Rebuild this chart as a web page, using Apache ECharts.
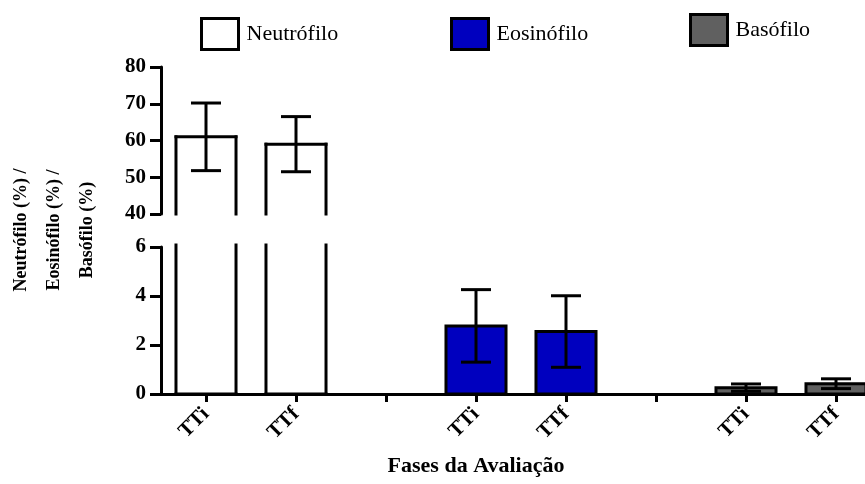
<!DOCTYPE html>
<html>
<head>
<meta charset="utf-8">
<script src="https://cdn.jsdelivr.net/npm/echarts@6/dist/echarts.min.js"></script>
<style>html,body{margin:0;padding:0;background:#fff}#c{width:865px;height:484px}</style>
</head>
<body>
<div id="c"></div>
<script>
const categories = ['TTi', 'TTf', '', 'TTi', 'TTf', '', 'TTi', 'TTf'];
const seriesNames = ['Neutrófilo', 'Eosinófilo', 'Basófilo'];
const neutrofiloMean = [61.0, 59.0, null, null, null, null, null, null];
const neutrofiloSD   = [9.2, 7.5, null, null, null, null, null, null];
const eosinofiloMean = [null, null, null, 2.78, 2.55, null, null, null];
const eosinofiloSD   = [null, null, null, 1.48, 1.46, null, null, null];
const basofiloMean   = [null, null, null, null, null, null, 0.26, 0.42];
const basofiloSD     = [null, null, null, null, null, null, 0.15, 0.20];
const yTicksTop = [40, 50, 60, 70, 80];
const yTicksBottom = [0, 2, 4, 6];
const xAxisTitle = 'Fases da Avaliação';
const yAxisTitle = 'Neutrófilo (%) /\nEosinófilo (%) /\nBasófilo (%)';

const SERIF = "'Liberation Serif', 'Times New Roman', serif";
const colors = ['#ffffff', '#0000bf', '#606060'];

function toData(mean, sd) {
  const out = [];
  mean.forEach((v, i) => { if (v != null) out.push([i, v, sd[i]]); });
  return out;
}

function makeRender(fill) {
  return function (params, api) {
    const i = api.value(0), m = api.value(1), sd = api.value(2);
    const cs = params.coordSys;
    const yMinPx = cs.y, yMaxPx = cs.y + cs.height;
    const c = api.coord([i, m]);
    const b = api.coord([i, 0]);
    const w = api.size([1, 0])[0] * 0.667;
    const x0 = c[0] - w / 2, x1 = c[0] + w / 2;
    const openTop = c[1] < yMinPx - 0.5;
    const openBot = b[1] > yMaxPx + 0.5;
    const yt = Math.max(c[1], yMinPx - 2), yb = Math.min(b[1], yMaxPx);
    const lw = 3;
    const line = (pts) => ({ type: 'polyline', shape: { points: pts }, style: { stroke: '#000', lineWidth: lw, fill: null, lineCap: 'square' } });
    const children = [];
    if (!openTop && !openBot) {
      children.push({ type: 'rect', shape: { x: x0, y: yt, width: w, height: yb - yt }, style: { fill: fill, stroke: '#000', lineWidth: lw } });
    } else {
      children.push({ type: 'rect', shape: { x: x0, y: yt, width: w, height: yb - yt }, style: { fill: fill } });
      children.push(line([[x0, yb], [x0, yt]]));
      children.push(line([[x1, yb], [x1, yt]]));
      if (!openTop) children.push(line([[x0, yt], [x1, yt]]));
      if (!openBot) children.push(line([[x0, yb], [x1, yb]]));
    }
    if (sd != null && !openTop) {
      const hi = api.coord([i, m + sd]);
      const lo = api.coord([i, m - sd]);
      const cw = w / 4;
      children.push({ type: 'polyline', shape: { points: [[c[0], lo[1]], [c[0], hi[1]]] }, style: { stroke: '#000', lineWidth: lw, fill: null } });
      children.push({ type: 'polyline', shape: { points: [[c[0] - cw, hi[1]], [c[0] + cw, hi[1]]] }, style: { stroke: '#000', lineWidth: lw, fill: null } });
      children.push({ type: 'polyline', shape: { points: [[c[0] - cw, lo[1]], [c[0] + cw, lo[1]]] }, style: { stroke: '#000', lineWidth: lw, fill: null } });
    }
    return { type: 'group', children: children };
  };
}

const yAxisCommon = {
  axisLine: { show: true, lineStyle: { color: '#000', width: 3 } },
  axisTick: { show: true, length: 11, lineStyle: { color: '#000', width: 3 } },
  axisLabel: { color: '#000', fontFamily: SERIF, fontWeight: 'bold', fontSize: 21, margin: 15 },
  splitLine: { show: false }
};

const legendCommon = {
  itemWidth: 37, itemHeight: 31, icon: 'rect',
  textStyle: { fontFamily: SERIF, fontSize: 22, color: '#000', padding: [0, 0, 0, 3] },
  selectedMode: false
};

const chart = echarts.init(document.getElementById('c'), null, { renderer: 'canvas' });
chart.setOption({
  animation: false,
  backgroundColor: '#fff',
  grid: [
    { left: 161, top: 67, width: 720, height: 147, outerBoundsMode: 'none', containLabel: false },
    { left: 161, top: 247, width: 720, height: 147, outerBoundsMode: 'none', containLabel: false }
  ],
  xAxis: [
    { type: 'category', gridIndex: 0, data: categories, show: false },
    {
      type: 'category', gridIndex: 1, data: categories,
      axisLine: { show: true, lineStyle: { color: '#000', width: 3 } },
      axisTick: { show: true, alignWithLabel: true, interval: 0, length: 8, lineStyle: { color: '#000', width: 3 } },
      axisLabel: { interval: 0, rotate: 45, color: '#000', fontFamily: SERIF, fontWeight: 'bold', fontSize: 21, margin: 17 }
    }
  ],
  yAxis: [
    Object.assign({ type: 'value', gridIndex: 0, min: yTicksTop[0], max: yTicksTop[yTicksTop.length - 1], interval: yTicksTop[1] - yTicksTop[0] }, yAxisCommon),
    Object.assign({ type: 'value', gridIndex: 1, min: yTicksBottom[0], max: yTicksBottom[yTicksBottom.length - 1], interval: yTicksBottom[1] - yTicksBottom[0] }, yAxisCommon)
  ],
  legend: [
    Object.assign({ left: 195, top: 12, data: [{ name: seriesNames[0], itemStyle: { color: colors[0], borderColor: '#000', borderWidth: 3 } }] }, legendCommon),
    Object.assign({ left: 445, top: 12, data: [{ name: seriesNames[1], itemStyle: { color: colors[1], borderColor: '#000', borderWidth: 3 } }] }, legendCommon),
    Object.assign({ left: 684, top: 8, data: [{ name: seriesNames[2], itemStyle: { color: colors[2], borderColor: '#000', borderWidth: 3 } }] }, legendCommon)
  ],
  series: [
    { name: seriesNames[0], type: 'custom', xAxisIndex: 0, yAxisIndex: 0, itemStyle: { color: colors[0] }, renderItem: makeRender(colors[0]), data: toData(neutrofiloMean, neutrofiloSD), encode: { x: 0, y: 1 } },
    { name: seriesNames[0], type: 'custom', xAxisIndex: 1, yAxisIndex: 1, itemStyle: { color: colors[0] }, renderItem: makeRender(colors[0]), data: toData(neutrofiloMean, neutrofiloSD), encode: { x: 0, y: 1 } },
    { name: seriesNames[1], type: 'custom', xAxisIndex: 1, yAxisIndex: 1, itemStyle: { color: colors[1] }, renderItem: makeRender(colors[1]), data: toData(eosinofiloMean, eosinofiloSD), encode: { x: 0, y: 1 } },
    { name: seriesNames[2], type: 'custom', xAxisIndex: 1, yAxisIndex: 1, itemStyle: { color: colors[2] }, renderItem: makeRender(colors[2]), data: toData(basofiloMean, basofiloSD), encode: { x: 0, y: 1 } }
  ],
  graphic: [
    { type: 'text', position: [476, 466], style: { text: xAxisTitle, font: 'bold 22px ' + SERIF, fill: '#000', textAlign: 'center', textVerticalAlign: 'middle' } },
    { type: 'text', position: [54, 230], rotation: Math.PI / 2, style: { text: yAxisTitle, font: 'bold 18px ' + SERIF, fill: '#000', textAlign: 'center', textVerticalAlign: 'middle', lineHeight: 33 } }
  ]
});
</script>
</body>
</html>
